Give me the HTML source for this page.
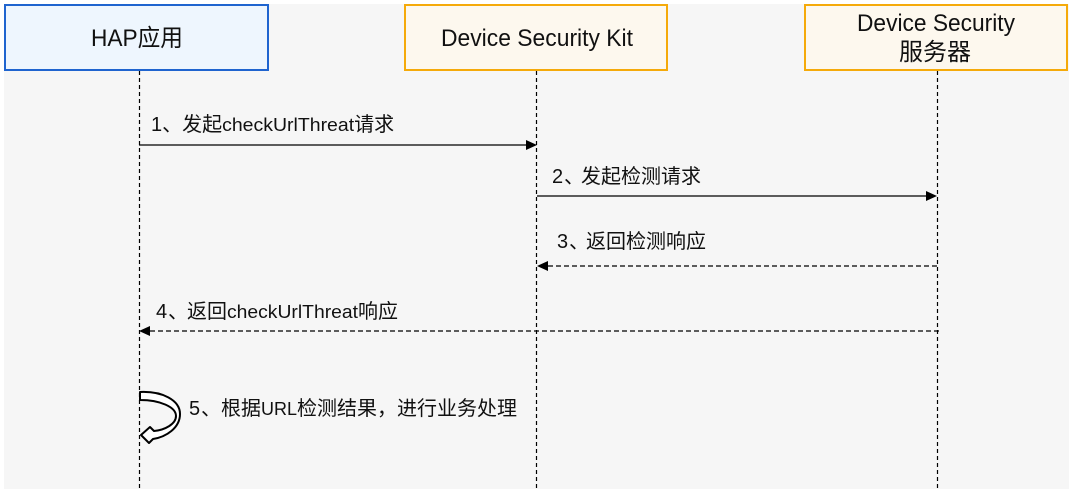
<!DOCTYPE html>
<html><head><meta charset="utf-8"><style>
html,body{margin:0;padding:0;background:#fff;}
svg{display:block;}
text{font-family:"Liberation Sans","Noto Sans CJK SC",sans-serif;fill:#111;}
</style></head><body>
<svg width="1073" height="494" viewBox="0 0 1073 494" xmlns="http://www.w3.org/2000/svg">
<rect x="4" y="4" width="1065" height="485" fill="#f6f6f6"/>
<!-- boxes -->
<rect x="5" y="5" width="263" height="65" fill="#eef6fe" stroke="#1f64cf" stroke-width="2"/>
<rect x="405" y="5" width="262" height="65" fill="#fdf8ee" stroke="#f5aa0a" stroke-width="2"/>
<rect x="805" y="5" width="262" height="65" fill="#fdf8ee" stroke="#f5aa0a" stroke-width="2"/>
<text x="91" y="46" font-size="24" textLength="92" lengthAdjust="spacingAndGlyphs">HAP应用</text>
<text x="441" y="46" font-size="24" textLength="192" lengthAdjust="spacingAndGlyphs">Device Security Kit</text>
<text x="857" y="31" font-size="24" textLength="158" lengthAdjust="spacingAndGlyphs">Device Security</text>
<text x="899" y="60" font-size="24">服务器</text>
<!-- lifelines -->
<g stroke="#000" stroke-width="1.2" stroke-dasharray="4 3" fill="none">
<line x1="139.5" y1="71" x2="139.5" y2="489"/>
<line x1="536.5" y1="71" x2="536.5" y2="489"/>
<line x1="937.5" y1="71" x2="937.5" y2="489"/>
</g>
<!-- arrows -->
<line x1="139" y1="145" x2="527" y2="145" stroke="#000" stroke-width="1.3"/>
<polygon points="537,145 526,140 526,150" fill="#000"/>
<line x1="537" y1="196" x2="927" y2="196" stroke="#000" stroke-width="1.3"/>
<polygon points="937,196 926,191 926,201" fill="#000"/>
<line x1="937" y1="266" x2="547" y2="266" stroke="#000" stroke-width="1.3" stroke-dasharray="5 3"/>
<polygon points="537,266 548,261 548,271" fill="#000"/>
<line x1="939" y1="331" x2="149" y2="331" stroke="#000" stroke-width="1.3" stroke-dasharray="5 3"/>
<polygon points="139,331 150,326 150,336" fill="#000"/>
<!-- labels -->
<text x="151" y="131" font-size="20">1<tspan>、发起</tspan><tspan font-size="18" textLength="132" lengthAdjust="spacingAndGlyphs">checkUrlThreat</tspan><tspan>请求</tspan></text>
<text x="552" y="183" font-size="20">2<tspan x="581">发起检测请求</tspan><tspan x="564" y="183">、</tspan></text>
<text x="557" y="248" font-size="20">3<tspan x="569">、</tspan><tspan x="586">返回检测响应</tspan></text>
<text x="156" y="318" font-size="20">4<tspan x="168">、</tspan><tspan x="187">返回</tspan><tspan font-size="18" textLength="131" lengthAdjust="spacingAndGlyphs">checkUrlThreat</tspan><tspan>响应</tspan></text>
<text x="189" y="415" font-size="20">5<tspan x="201">、</tspan><tspan x="221">根据</tspan><tspan font-size="18" textLength="36" lengthAdjust="spacingAndGlyphs">URL</tspan><tspan>检测结果，进行业务处理</tspan></text>
<!-- self loop -->
<path d="M140,392 C162,391 180,400 180,414 C180,428 166,437 153,439 L149,443 L141,435 L150,427 L154,431 C165,430 176,424 176,416 C176,407 160,400 140,400 Z" fill="#fff" stroke="#000" stroke-width="2" stroke-linejoin="round"/>
</svg>
</body></html>
